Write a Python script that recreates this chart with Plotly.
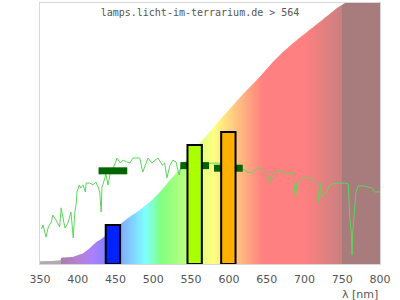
import plotly.graph_objects as go

# ---- data ----
title_text = "lamps.licht-im-terrarium.de > 564"

# cumulative (relative) curve, drawn as spectrum-coloured area
cum_wl = [350, 377, 378, 394, 407, 416, 425, 433, 446, 458, 469, 482, 496, 509, 522, 535,
          550, 570, 588, 600, 620, 640, 654, 670, 690, 710, 730, 745, 760, 780, 800]
cum_val = [1.1, 1.5, 2.3, 2.8, 4.1, 6.1, 8.5, 10.0, 13.0, 15.7, 18.1, 20.7, 23.9, 27.7, 32.2, 36.4,
           42.5, 49.0, 55.2, 59.0, 65.5, 71.5, 76.0, 80.8, 85.8, 90.4, 95.0, 98.5, 101, 105, 108]

# measured spectrum (green line)
spec_wl = [352, 354, 358, 361, 365, 367, 371, 376, 378, 380, 383, 387, 391, 394, 396, 398, 399,
           402, 404, 407, 410, 411, 416, 420, 424, 427, 429, 431, 432, 436, 437, 440, 443, 447,
           452, 456, 460, 465, 469, 473, 478, 482, 486, 489, 493, 498, 502, 506, 512, 515, 518,
           522, 526, 530, 534, 538, 545, 552, 560, 568, 575, 582, 586, 595, 605, 614, 621, 625,
           631, 635, 639, 644, 648, 652, 654, 657, 661, 665, 670, 674, 678, 684, 685, 688, 690,
           694, 698, 703, 707, 711, 717, 719, 722, 723, 726, 730, 733, 738, 743, 747, 754, 758,
           760, 762, 763, 764, 766, 768, 771, 778, 784, 789, 793, 800]
spec_val = [13.4, 14.9, 10.3, 14.2, 16.1, 18.8, 16.9, 14.2, 21.5, 18.8, 13.8, 15.7, 19.9, 10.0,
            19.5, 23.4, 27.6, 30.3, 29.1, 30.3, 27.6, 31.0, 31.0, 30.3, 31.4, 29.5, 27.6, 19.9,
            29.5, 33.0, 34.9, 30.3, 34.9, 36.8, 40.6, 38.7, 39.8, 39.1, 38.7, 40.6, 40.6, 40.6,
            35.2, 37.9, 40.6, 38.7, 39.8, 40.6, 37.9, 38.7, 33.0, 37.9, 39.8, 39.1, 34.1, 38.7,
            39.0, 38.4, 38.8, 38.2, 38.6, 38.7, 38.7, 37.6, 37.0, 36.5, 36.0, 35.2, 34.9, 36.0,
            36.8, 36.4, 35.2, 34.1, 31.0, 33.3, 34.9, 35.6, 35.6, 34.9, 34.9, 34.9, 34.1, 25.3,
            31.0, 32.2, 33.0, 33.0, 33.0, 32.2, 31.0, 23.8, 31.0, 25.7, 27.2, 27.6, 30.3, 30.7,
            31.0, 31.0, 31.0, 30.7, 18.0, 11.9, 3.4, 13.0, 19.5, 27.2, 29.9, 29.9, 29.5, 29.1,
            27.6, 27.6]

# band bars
bar_wl = [446.5, 554.7, 599.3]
bar_val = [14.9, 45.6, 50.6]
bar_colors = ["#0022ff", "#aaff00", "#ffb000"]
bar_width = 19

# reference marks (dark green) per band
mark_val = [35.7, 37.7, 36.7]

tick_vals = [350, 400, 450, 500, 550, 600, 650, 700, 750, 800]
x_label = "λ [nm]"

# ---- spectrum colour scale (style) ----
WL0, WL1 = 350, 800
stops = [(350, "#b2aab2"), (377.9, "#b2aab2"), (378, "#a680a6"), (400, "#b780d2"),
         (420, "#aa80ff"), (440, "#8080ff"), (465, "#80bfff"), (490, "#80ffff"),
         (510, "#80ff80"), (545, "#bfff80"), (580, "#ffff80"), (612, "#ffbf80"),
         (645, "#ff8080"), (700, "#ff8080"), (749.9, "#c98080"), (750, "#a87c7c"),
         (800, "#a87c7c")]
colorscale = [[(w - WL0) / (WL1 - WL0), c] for w, c in stops]

fig = go.Figure()
fig.add_trace(go.Scatter(
    x=cum_wl, y=cum_val, mode="lines",
    line=dict(width=0, color="rgba(0,0,0,0)", shape="spline", smoothing=0.6),
    fill="tozeroy",
    fillgradient=dict(type="horizontal", colorscale=colorscale, start=WL0, stop=WL1),
    hoverinfo="skip"))
fig.add_trace(go.Scatter(x=spec_wl, y=spec_val, mode="lines",
                         line=dict(color="#5cd65c", width=1)))
for c, v in zip(bar_wl, mark_val):
    fig.add_trace(go.Scatter(x=[c - bar_width, c + bar_width], y=[v, v], mode="lines",
                             line=dict(color="#006400", width=7)))
# bars on an overlaying axis pair so they are drawn above everything else
fig.add_trace(go.Bar(x=bar_wl, y=bar_val, width=bar_width, xaxis="x2", yaxis="y2",
                     marker=dict(color=bar_colors, line=dict(color="black", width=2))))

fig.update_layout(
    width=400, height=300, margin=dict(l=40, r=20, t=3, b=36),
    paper_bgcolor="white", plot_bgcolor="white", showlegend=False,
    font=dict(family="DejaVu Sans", size=11, color="#555555"),
    title=dict(text=title_text, x=0.5, xref="container", xanchor="center",
               y=1 - 12 / 300, yref="container", yanchor="middle",
               font=dict(family="DejaVu Sans Mono", size=10, color="#555555")),
    xaxis=dict(range=[WL0, WL1], tickvals=tick_vals, showgrid=False, zeroline=False,
               showline=True, linecolor="#d8d8d8", linewidth=1, mirror=True, ticks="",
               ticklabelstandoff=5),
    yaxis=dict(range=[0, 100], showticklabels=False, showgrid=False, zeroline=False,
               showline=True, linecolor="#d8d8d8", linewidth=1, mirror=True, ticks=""),
    xaxis2=dict(range=[WL0, WL1], overlaying="x", visible=False),
    yaxis2=dict(range=[0, 100], overlaying="y", visible=False),
    annotations=[dict(text=x_label, xref="paper", yref="paper", x=1.0, y=-30 / 261,
                      xanchor="right", yanchor="middle", showarrow=False,
                      font=dict(family="DejaVu Sans", size=11, color="#555555"))],
)
fig.write_html("out.html")
